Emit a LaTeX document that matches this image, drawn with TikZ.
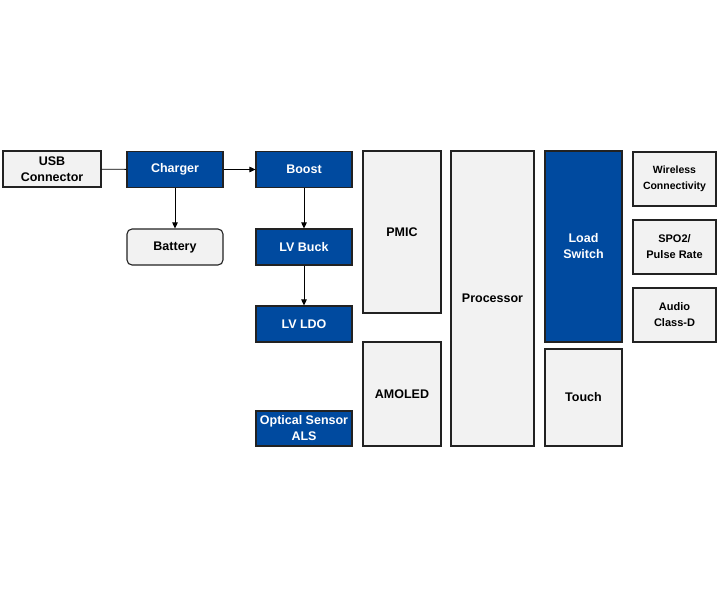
\documentclass[tikz,border=0pt]{standalone}
\usepackage{fontspec}
\setmainfont{Liberation Sans}
\usetikzlibrary{arrows.meta, positioning}
\definecolor{pwrblue}{HTML}{004A9F}
\definecolor{boxgray}{HTML}{F2F2F2}
\definecolor{edge}{HTML}{222222}

\begin{document}
\begin{tikzpicture}[
    x=1pt, y=-1pt,
    font=\fontsize{12.5}{16}\selectfont\bfseries,
    gbox/.style={draw=edge, line width=1.1pt, fill=boxgray, text=black,
                 align=center, inner sep=1pt},
    bbox/.style={gbox, fill=pwrblue, text=white},
    batt/.style={gbox, rounded corners=5pt},
    sz/.style 2 args={minimum width=#1pt, minimum height=#2pt},
    small/.style={font=\fontsize{11}{16}\selectfont\bfseries},
    flow/.style={-{Triangle[length=6pt,width=5.5pt]}, line width=0.9pt, draw=black}
]
\useasboundingbox (0,0) rectangle (720,600);

% power path
\node[gbox, sz={98}{36}] (usb) at (52,169) {USB\\Connector};
\node[bbox, sz={96}{36}] (charger) at (175,169.5) {Charger};
\node[bbox, sz={96}{36}] (boost) at (304,169.5) {Boost};
\node[batt, sz={96}{36}] (battery) at (175,247) {Battery};
\node[bbox, sz={96}{36}] (buck) at (304,247) {LV Buck};
\node[bbox, sz={96}{36}] (ldo) at (304,324) {LV LDO};
\node[bbox, sz={96}{35}] (optical) at (304,428.5) {Optical Sensor\\ALS};

% system blocks
\node[gbox, sz={78}{162}] (pmic) at (402,232) {PMIC};
\node[gbox, sz={78}{104}] (amoled) at (402,394) {AMOLED};
\node[gbox, sz={83}{295}] (cpu) at (492.5,298.5) {Processor};
\node[bbox, sz={77}{191}] (loadsw) at (583.5,246.5) {Load\\Switch};
\node[gbox, sz={77}{97}] (touch) at (583.5,397.5) {Touch};

% peripherals
\node[gbox, sz={83}{54}, font=\fontsize{10.5}{16}\selectfont\bfseries] (wireless) at (674.5,179) {Wireless\\Connectivity};
\node[gbox, sz={83}{54}, small] (spo) at (674.5,247) {SPO2/\\Pulse Rate};
\node[gbox, sz={83}{54}, small] (audio) at (674.5,315) {Audio\\Class-D};

% connections
\draw[line width=0.9pt] (usb) -- (charger);
\draw[flow] (charger) -- (boost);
\draw[flow] (charger) -- (battery);
\draw[flow] (boost) -- (buck);
\draw[flow] (buck) -- (ldo);

\end{tikzpicture}
\end{document}
